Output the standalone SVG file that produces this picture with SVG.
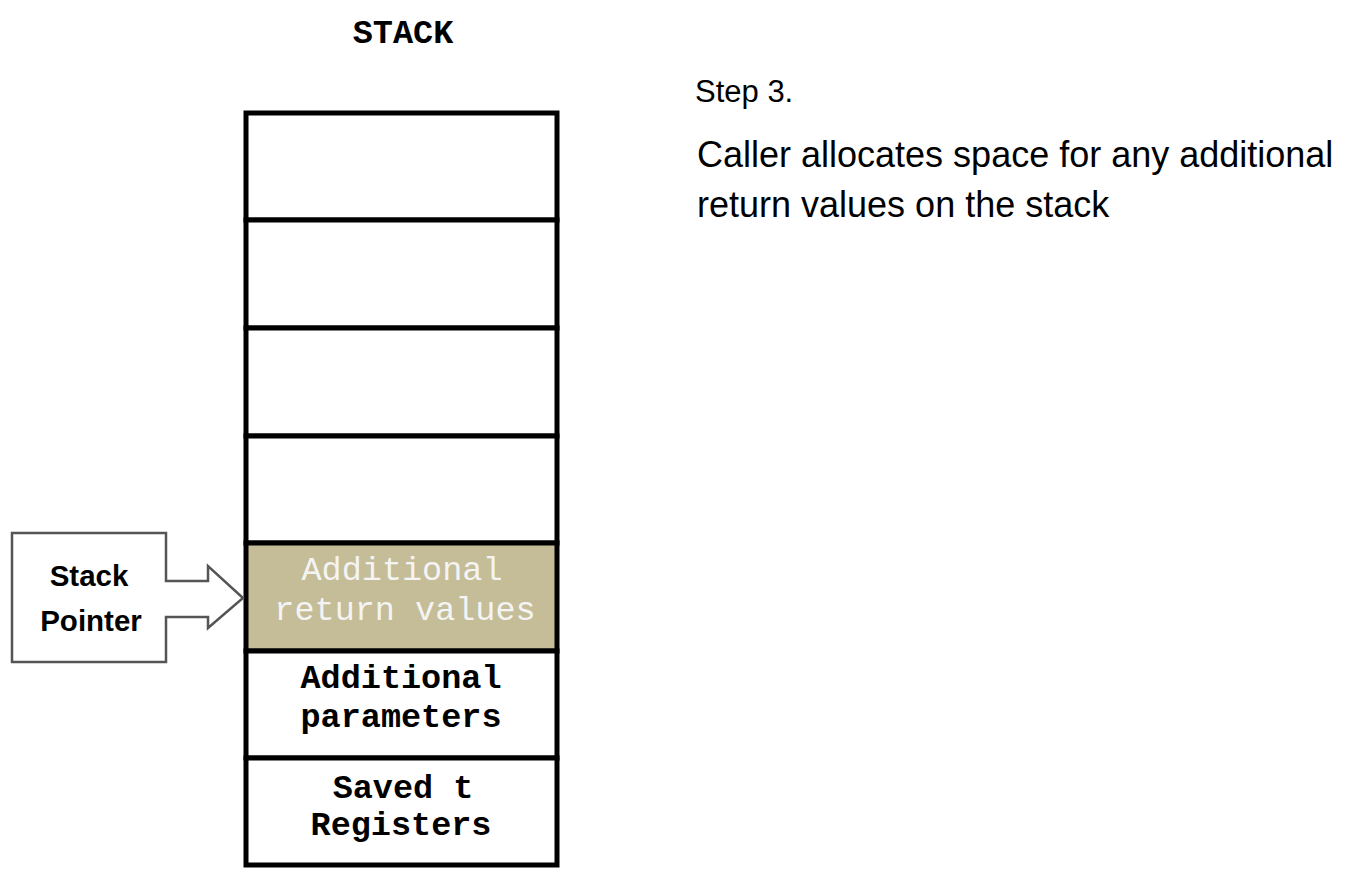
<svg xmlns="http://www.w3.org/2000/svg" width="1350" height="880" viewBox="0 0 1350 880">
<style>
.cell{fill:#ffffff;stroke:#000000;stroke-width:5}
.tan{fill:#C4BD97;stroke:#000000;stroke-width:5}
.mono{font-family:"Liberation Mono","Courier New",monospace;font-size:33.5px;text-anchor:middle}
.b{font-weight:bold;fill:#000}
.w{fill:#F4F4F4}
.sans{font-family:"Liberation Sans",Arial,sans-serif}
</style>
<rect width="1350" height="880" fill="#ffffff"/>
<text class="mono b" x="403" y="43">STACK</text>
<g id="cell1"><rect class="cell" x="246" y="113" width="311" height="107"/></g>
<g id="cell2"><rect class="cell" x="246" y="220" width="311" height="108"/></g>
<g id="cell3"><rect class="cell" x="246" y="328" width="311" height="108"/></g>
<g id="cell4"><rect class="cell" x="246" y="436" width="311" height="107"/></g>
<g id="cell5"><rect class="tan" x="246" y="543" width="311" height="108"/>
<text class="mono w" x="402" y="580">Additional</text>
<text class="mono w" x="405" y="620">return values</text></g>
<g id="cell6"><rect class="cell" x="246" y="651" width="311" height="107"/>
<text class="mono b" x="401" y="688">Additional</text>
<text class="mono b" x="401" y="727">parameters</text></g>
<g id="cell7"><rect class="cell" x="246" y="758" width="311" height="107"/>
<text class="mono b" x="403" y="798">Saved t</text>
<text class="mono b" x="401" y="835">Registers</text></g>
<g id="stack-pointer">
<path d="M12,533 H166 V581 H208 V566 L243,598 L208,628 V617 H166 V662 H12 Z" fill="#ffffff" stroke="#555555" stroke-width="2.5" stroke-linejoin="miter"/>
<text class="sans b" x="89" y="586" font-size="29.5" text-anchor="middle">Stack</text>
<text class="sans b" x="91" y="631" font-size="29.5" text-anchor="middle">Pointer</text>
</g>
<g id="description" class="sans" fill="#000">
<text x="695" y="102" font-size="31">Step 3.</text>
<text x="697" y="167" font-size="36">Caller allocates space for any additional</text>
<text x="697" y="217" font-size="36">return values on the stack</text>
</g>
</svg>
